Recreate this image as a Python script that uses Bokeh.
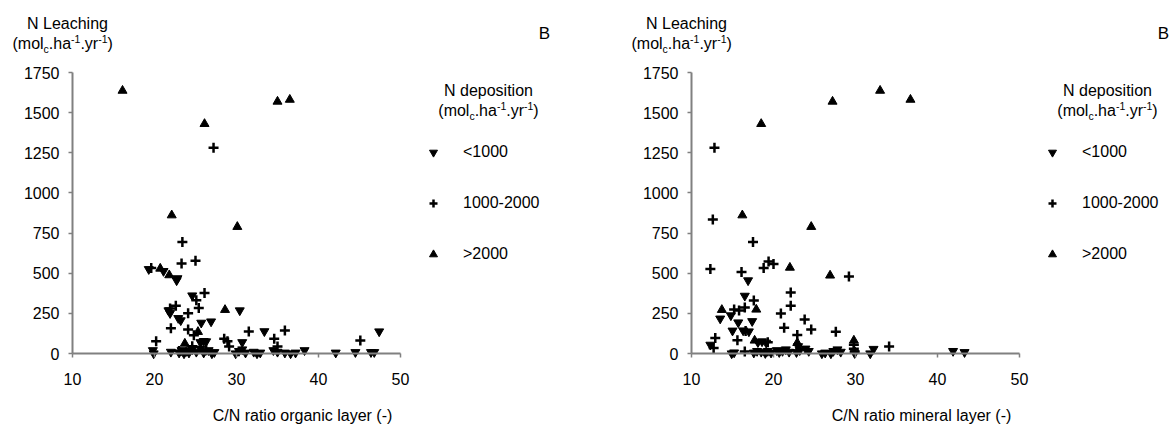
from bokeh.plotting import figure
from bokeh.layouts import row
from bokeh.models import Range1d, Label, Legend, LegendItem, FixedTicker, LinearAxis
from bokeh.embed import file_html
from bokeh.resources import INLINE

FONT = "Liberation Sans"

# ---------------- data ----------------
x_ticks = [10, 20, 30, 40, 50]
y_ticks = [0, 250, 500, 750, 1000, 1250, 1500, 1750]
legend_labels = ["<1000", "1000-2000", ">2000"]
y_title = "N Leaching"
legend_title = "N deposition"
panel_letter = "B"
x_titles = ["C/N ratio organic layer (-)", "C/N ratio mineral layer (-)"]

# organic layer panel
org_high_x = [16.1, 26.1, 35.0, 36.5, 22.1, 30.1, 20.7, 21.8, 28.6, 25.3, 23.7, 23.9]
org_high_y = [1637, 1430, 1569, 1581, 861, 789, 529, 488, 272, 135, 62, 10]
org_mid_x = [27.2, 23.4, 23.3, 25.0, 19.6, 26.1, 25.1, 25.4, 22.6, 21.9, 24.1, 22.0, 24.1,
             24.8, 31.5, 35.9, 34.6, 20.2, 28.5, 28.9, 29.1, 35.0, 24.6, 45.1, 26.3, 23.0]
org_mid_y = [1281, 695, 560, 577, 532, 377, 332, 284, 298, 280, 251, 158, 150,
             113, 137, 143, 92, 76, 92, 76, 44, 44, 45, 81, 20, 15]
org_low_x = [19.3, 21.1, 22.8, 22.7, 24.6, 21.7, 21.9, 22.9, 23.2, 30.4, 25.7, 26.9, 33.4,
             30.7, 25.6, 26.0, 26.3, 47.4, 19.8, 19.9, 22.0, 23.0, 23.3, 23.6, 23.9, 24.2,
             24.6, 25.1, 25.6, 26.0, 26.6, 27.0, 27.3, 29.9, 30.3, 30.7, 31.1, 32.1, 32.5,
             32.9, 34.5, 35.0, 35.9, 36.6, 37.2, 38.3, 42.1, 44.5, 46.4, 46.8]
org_low_y = [525, 513, 468, 455, 361, 268, 251, 220, 206, 268, 191, 199, 138,
             70, 70, 77, 75, 137, 20, 0, 10, 5, 20, 0, 15, 5,
             25, 10, 30, 5, 20, 0, 8, 0, 15, 25, 5, 10, 0,
             5, 20, 10, 5, 0, 5, 20, 5, 8, 8, 8]

# mineral layer panel
min_high_x = [18.5, 27.2, 33.0, 36.7, 16.2, 24.6, 22.0, 26.9, 13.7, 17.9, 17.7, 22.9, 29.8]
min_high_y = [1430, 1569, 1637, 1581, 861, 789, 535, 486, 272, 274, 81, 66, 81]
min_mid_x = [12.8, 12.6, 17.5, 12.3, 16.1, 18.8, 19.4, 20.0, 29.2, 22.1, 22.1, 17.6, 20.9,
             15.2, 15.8, 16.5, 16.6, 21.3, 23.8, 24.6, 27.6, 22.9, 12.9, 12.7, 15.6, 19.3,
             34.1, 29.8, 29.8, 16.5, 29.9]
min_mid_y = [1281, 834, 695, 527, 508, 533, 573, 558, 480, 380, 297, 330, 249,
             274, 268, 287, 140, 160, 212, 150, 136, 115, 96, 35, 82, 70,
             44, 55, 30, 12, 10]
min_low_x = [16.9, 16.5, 13.5, 14.8, 15.7, 17.4, 15.0, 16.3, 17.0, 12.3, 18.1, 18.6, 19.1,
             23.0, 14.9, 15.2, 17.6, 18.0, 18.5, 19.0, 19.3, 19.7, 20.4, 20.7, 21.1, 21.5,
             21.9, 22.8, 23.2, 23.9, 24.3, 25.9, 26.3, 27.0, 27.3, 27.8, 28.2, 29.9, 31.8,
             32.2, 41.9, 43.3]
min_low_y = [455, 359, 217, 237, 193, 201, 142, 143, 137, 54, 70, 75, 67,
             45, 0, 6, 5, 15, 10, 2, 15, 5, 20, 8, 15, 25,
             10, 8, 20, 30, 15, 0, 5, 0, 15, 25, 10, 2, 0,
             28, 15, 8]

# ---------------- layout helpers ----------------
X0, X1, Y0, Y1 = 10, 50, 0, 1750
PX_X = 8.2                 # px per x unit
PX_Y = 281.0 / 1750.0      # px per y unit
OFF_L, OFF_T = 72, 72      # plot area offset inside each figure
H = 424
FS = 16
SMALL = 10.5

AW = {'(': 333, ')': 333, 'm': 833, 'o': 556, 'l': 222, 'c': 500, '.': 278, 'h': 556,
      'a': 556, '-': 333, '1': 556, 'y': 500, 'r': 333}


def tw(s, size):
    return sum(AW.get(ch, 556) for ch in s) * size / 1000.0


def X(rx):
    return X0 + rx / PX_X


def Y(ry):
    return Y1 - ry / PX_Y


def add_label(p, rx, ry, text, size=FS, align="left"):
    p.add_layout(Label(x=X(rx), y=Y(ry), text=text, text_font=FONT,
                       text_font_size=f"{size}px", text_align=align,
                       text_baseline="middle", text_color="black"))


UNIT_PARTS = [("(mol", "n"), ("c", "sub"), (".ha", "n"), ("-1", "sup"),
              (".yr", "n"), ("-1", "sup"), (")", "n")]


def add_units(p, rx, ry, center=False):
    total = sum(tw(t, FS if k == "n" else SMALL) for t, k in UNIT_PARTS)
    x = rx - total / 2 if center else rx
    for t, k in UNIT_PARTS:
        fs = FS if k == "n" else SMALL
        dy = 0 if k == "n" else (5 if k == "sub" else -5)
        add_label(p, x, ry + dy, t, size=fs)
        x += tw(t, fs)


def make_panel(hx, hy, mx, my, lx, ly, xtitle, width):
    xr = Range1d(X0 - OFF_L / PX_X, X0 + (width - OFF_L) / PX_X)
    yr = Range1d(-(H - OFF_T - 281) / PX_Y, Y1 + OFF_T / PX_Y)
    p = figure(frame_width=width, frame_height=H, min_border=0,
               x_range=xr, y_range=yr, x_axis_location=None, y_axis_location=None,
               output_backend="svg", toolbar_location=None)
    p.grid.visible = False
    p.outline_line_color = None
    p.background_fill_color = "white"
    p.border_fill_color = "white"

    xa = LinearAxis(fixed_location=0, bounds=(X0, X1), ticker=FixedTicker(ticks=x_ticks))
    ya = LinearAxis(fixed_location=X0, bounds=(Y0, Y1), ticker=FixedTicker(ticks=y_ticks))
    for ax in (xa, ya):
        ax.axis_line_color = "#808080"
        ax.axis_line_width = 2
        ax.major_tick_line_color = "#808080"
        ax.major_tick_line_width = 1.5
        ax.major_tick_out = 4
        ax.major_tick_in = 0
        ax.minor_tick_line_color = None
        ax.major_label_text_font = FONT
        ax.major_label_text_font_size = f"{FS}px"
        ax.major_label_text_color = "black"
    xa.major_label_standoff = 15
    ya.major_label_standoff = 9
    p.add_layout(xa, "below")
    p.add_layout(ya, "left")

    r_low = p.scatter(lx, ly, marker="inverted_triangle", size=9,
                      fill_color="black", line_color="black")
    r_mid = p.scatter(mx, my, marker="cross", size=10, line_width=2.5,
                      line_color="black")
    r_high = p.scatter(hx, hy, marker="triangle", size=9,
                       fill_color="black", line_color="black")

    legend = Legend(items=[LegendItem(label=legend_labels[0], renderers=[r_low]),
                           LegendItem(label=legend_labels[1], renderers=[r_mid]),
                           LegendItem(label=legend_labels[2], renderers=[r_high])],
                    location=(423, 160), orientation="vertical",
                    glyph_width=20, glyph_height=20, label_standoff=20,
                    spacing=31, padding=0, margin=0,
                    border_line_alpha=0, background_fill_alpha=0,
                    label_text_font=FONT, label_text_font_size=f"{FS}px",
                    label_text_color="black")
    p.add_layout(legend)

    add_label(p, -5, -49, y_title, align="center")
    add_units(p, -60, -29)
    add_label(p, 416, 18, legend_title, align="center")
    add_units(p, 416, 38, center=True)
    add_label(p, 472, -39, panel_letter, size=17, align="center")
    add_label(p, 230, 343, xtitle, align="center")
    return p


p1 = make_panel(org_high_x, org_high_y, org_mid_x, org_mid_y, org_low_x, org_low_y,
                x_titles[0], 619)
p2 = make_panel(min_high_x, min_high_y, min_mid_x, min_mid_y, min_low_x, min_low_y,
                x_titles[1], 550)

layout = row(p1, p2)
open("out.html", "w").write(file_html(layout, INLINE))
